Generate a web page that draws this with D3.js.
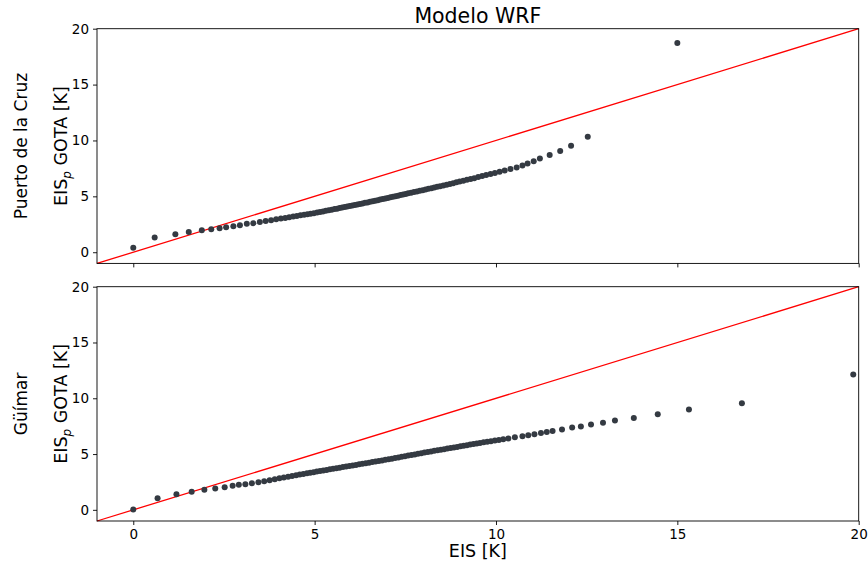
<!DOCTYPE html>
<html>
<head>
<meta charset="utf-8">
<script src="https://cdn.jsdelivr.net/npm/d3@7"></script>
<style>
  html, body { margin: 0; padding: 0; background: #fff; }
  svg { display: block; font-family: "DejaVu Sans", sans-serif; }
</style>
</head>
<body>
<svg id="chart" width="868" height="563"></svg>
<script>
// Quantiles of EIS (WRF) against quantiles of EIS_p (GOTA), one panel per station
const stations = ["Puerto de la Cruz", "Güímar"];

const puertoEIS = [
  0.00, 0.59, 1.16, 1.53, 1.89, 2.15, 2.38, 2.56, 2.76, 2.94, 3.13, 3.31, 3.49,
  3.65, 3.80, 3.94, 4.07, 4.19, 4.30, 4.41, 4.51, 4.61, 4.71,
  4.80, 4.89, 4.98, 5.07, 5.15, 5.23, 5.31, 5.39, 5.47, 5.55,
  5.62, 5.69, 5.76, 5.83, 5.90, 5.97, 6.04, 6.11, 6.18, 6.25,
  6.32, 6.39, 6.46, 6.53, 6.60, 6.67, 6.74, 6.81, 6.88, 6.95,
  7.02, 7.09, 7.16, 7.23, 7.30, 7.37, 7.44, 7.51, 7.58, 7.66,
  7.74, 7.82, 7.90, 7.98, 8.06, 8.14, 8.22, 8.30, 8.38, 8.46,
  8.55, 8.64, 8.73, 8.82, 8.91, 9.00, 9.10, 9.20, 9.30, 9.40,
  9.51, 9.62, 9.73, 9.85, 9.97, 10.10, 10.24, 10.40,
  10.57, 10.73, 10.87, 11.04, 11.21, 11.48, 11.77, 12.07, 12.53, 15.00
];
const puertoEISp = [
  0.41, 1.31, 1.61, 1.82, 1.97, 2.06, 2.15, 2.24, 2.33, 2.42, 2.54, 2.60, 2.71,
  2.79, 2.87, 2.94, 3.01, 3.07, 3.13, 3.19, 3.24, 3.30, 3.35,
  3.40, 3.44, 3.49, 3.55, 3.60, 3.65, 3.70, 3.75, 3.80, 3.86,
  3.90, 3.95, 4.00, 4.04, 4.09, 4.14, 4.18, 4.23, 4.28, 4.32,
  4.37, 4.42, 4.46, 4.51, 4.56, 4.61, 4.66, 4.71, 4.76, 4.81,
  4.86, 4.91, 4.96, 5.01, 5.06, 5.11, 5.16, 5.22, 5.27, 5.32,
  5.38, 5.44, 5.50, 5.55, 5.61, 5.67, 5.73, 5.79, 5.85, 5.90,
  5.97, 6.04, 6.11, 6.18, 6.25, 6.32, 6.40, 6.48, 6.56, 6.63,
  6.72, 6.81, 6.90, 6.99, 7.09, 7.20, 7.31, 7.44,
  7.58, 7.76, 7.94, 8.15, 8.39, 8.69, 9.05, 9.53, 10.33, 18.73
];

const guimarEIS = [
  0.00, 0.67, 1.19, 1.61, 1.96, 2.26, 2.52, 2.74, 2.91, 3.09, 3.27, 3.45,
  3.61, 3.76, 3.90, 4.03, 4.15, 4.27, 4.38, 4.49, 4.59, 4.69,
  4.79, 4.88, 4.97, 5.06, 5.15, 5.24, 5.33, 5.42, 5.51, 5.60,
  5.69, 5.78, 5.87, 5.96, 6.05, 6.14, 6.23, 6.32, 6.41, 6.50,
  6.59, 6.68, 6.77, 6.86, 6.95, 7.04, 7.13, 7.22, 7.31, 7.40,
  7.49, 7.58, 7.67, 7.76, 7.85, 7.94, 8.03, 8.12, 8.21, 8.30,
  8.39, 8.48, 8.57, 8.66, 8.75, 8.84, 8.93, 9.02, 9.11, 9.20,
  9.29, 9.38, 9.47, 9.56, 9.66, 9.76, 9.86, 9.97, 10.08, 10.20, 10.34,
  10.52, 10.73, 10.89, 11.06, 11.24, 11.40, 11.56, 11.82, 12.10, 12.34,
  12.62, 12.95, 13.28, 13.80, 14.46, 15.32, 16.78, 19.85
];
const guimarEISp = [
  0.03, 1.04, 1.40, 1.62, 1.80, 1.91, 2.03, 2.16, 2.25, 2.30, 2.39, 2.48,
  2.57, 2.66, 2.75, 2.83, 2.90, 2.97, 3.04, 3.10, 3.16, 3.22,
  3.28, 3.33, 3.38, 3.43, 3.48, 3.53, 3.58, 3.63, 3.68, 3.73,
  3.78, 3.83, 3.88, 3.93, 3.98, 4.03, 4.08, 4.13, 4.18, 4.23,
  4.28, 4.33, 4.38, 4.43, 4.49, 4.54, 4.59, 4.65, 4.70, 4.75,
  4.81, 4.86, 4.91, 4.97, 5.02, 5.07, 5.13, 5.18, 5.23, 5.29,
  5.34, 5.39, 5.44, 5.49, 5.54, 5.59, 5.64, 5.69, 5.74, 5.79,
  5.85, 5.90, 5.95, 6.00, 6.05, 6.10, 6.15, 6.21, 6.27, 6.33, 6.40,
  6.50, 6.59, 6.68, 6.77, 6.89, 6.98, 7.07, 7.21, 7.37, 7.48,
  7.64, 7.81, 8.00, 8.23, 8.56, 9.00, 9.55, 12.13
];

const xTicks = [0, 5, 10, 15, 20];
const yTicks = [0, 5, 10, 15, 20];
const axisDomain = [-1, 20];
const diagonal = [-1, 20];

const panelsData = [
  { station: stations[0], xs: puertoEIS, ys: puertoEISp },
  { station: stations[1], xs: guimarEIS, ys: guimarEISp }
];

const svg = d3.select("#chart");
const left = 97, right = 858.7;
const panelBox = [
  { top: 28.7, bottom: 263.4 },
  { top: 286.7, bottom: 521.0 }
];

const x = d3.scaleLinear().domain(axisDomain).range([left, right]);

panelsData.forEach((p, i) => {
  const box = panelBox[i];
  const y = d3.scaleLinear().domain(axisDomain).range([box.bottom, box.top]);
  const g = svg.append("g");

  // 1:1 reference line
  g.append("line")
    .attr("x1", x(diagonal[0])).attr("y1", y(diagonal[0]))
    .attr("x2", x(diagonal[1])).attr("y2", y(diagonal[1]))
    .attr("stroke", "#ff0000").attr("stroke-width", 1.3);

  // quantile points
  g.append("g").selectAll("circle")
    .data(p.xs.map((v, k) => [v, p.ys[k]]))
    .join("circle")
    .attr("cx", d => x(d[0]))
    .attr("cy", d => y(d[1]))
    .attr("r", 3)
    .attr("fill", "#343a42");

  // frame
  g.append("rect")
    .attr("x", left).attr("y", box.top)
    .attr("width", right - left).attr("height", box.bottom - box.top)
    .attr("fill", "none").attr("stroke", "#000").attr("stroke-width", 0.9);

  // axes
  const xAxis = d3.axisBottom(x).tickValues(xTicks).tickSize(4).tickPadding(4);
  if (i === 0) xAxis.tickFormat("");
  const gx = g.append("g").attr("transform", `translate(0,${box.bottom})`).call(xAxis);
  const gy = g.append("g").attr("transform", `translate(${left},0)`)
    .call(d3.axisLeft(y).tickValues(yTicks).tickSize(4).tickPadding(4));
  [gx, gy].forEach(a => {
    a.select(".domain").remove();
    a.selectAll(".tick line").attr("stroke", "#000").attr("stroke-width", 0.9);
    a.selectAll(".tick text").attr("fill", "#000")
      .style("font-family", "DejaVu Sans").style("font-size", "13.5px");
  });

  const cy = (box.top + box.bottom) / 2;
  // y-axis label with subscript p
  const yl = g.append("text")
    .attr("transform", `translate(67,${cy}) rotate(-90)`)
    .attr("text-anchor", "middle")
    .style("font-size", "17.5px").attr("fill", "#000");
  yl.append("tspan").text("EIS");
  yl.append("tspan").attr("dy", 4).style("font-size", "12px").style("font-style", "italic").text("p");
  yl.append("tspan").attr("dy", -4).text(" GOTA [K]");

  // station name
  g.append("text")
    .attr("transform", `translate(27,${cy}) rotate(-90)`)
    .attr("text-anchor", "middle")
    .style("font-size", "17px").attr("fill", "#000")
    .text(p.station);
});

svg.append("text")
  .attr("x", (left + right) / 2).attr("y", 23)
  .attr("text-anchor", "middle")
  .style("font-size", "20.5px").attr("fill", "#000")
  .text("Modelo WRF");

svg.append("text")
  .attr("x", (left + right) / 2).attr("y", 557)
  .attr("text-anchor", "middle")
  .style("font-size", "17.5px").attr("fill", "#000")
  .text("EIS [K]");
</script>
</body>
</html>
